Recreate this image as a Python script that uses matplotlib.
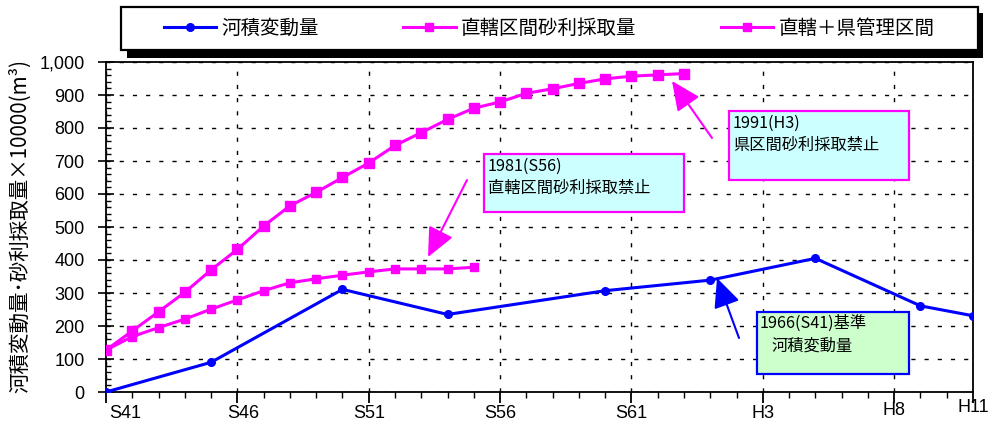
import matplotlib
matplotlib.use("Agg")
from matplotlib import pyplot as plt
from matplotlib.patches import Rectangle, FancyArrowPatch
from matplotlib.ticker import MultipleLocator, FixedLocator, FuncFormatter
from matplotlib.transforms import ScaledTranslation

# データ
years_kaseki = [1966, 1970, 1975, 1979, 1985, 1989, 1993, 1997, 1999]
kaseki = [0, 90, 311, 235, 307, 339, 405, 261, 231]

years_choku = list(range(1966, 1981))
choku = [127, 168, 195, 221, 251, 279, 307, 331, 343, 354, 364, 373, 373, 373, 378]

years_total = list(range(1966, 1989))
total = [127, 185, 243, 302, 370, 432, 503, 564, 605, 650, 694, 747, 786, 826,
         860, 879, 905, 919, 935, 949, 957, 961, 965]

tick_years = [1966, 1971, 1976, 1981, 1986, 1991, 1996, 1999]
tick_labels = ["S41", "S46", "S51", "S56", "S61", "H3", "H8", "H11"]

series_names = ["河積変動量", "直轄区間砂利採取量", "直轄＋県管理区間"]

JP = ["Noto Sans CJK JP", "DejaVu Sans"]
W, H = 990, 423

plt.rcParams["font.family"] = ["Liberation Sans", "Noto Sans CJK JP", "DejaVu Sans"]

fig = plt.figure(figsize=(9.9, 4.23), dpi=100)
ax = fig.add_axes([106 / W, 1 - 392 / H, (973 - 106) / W, (392 - 62) / H])


def fx(px):
    return px / W


def fy(py):
    return 1 - py / H


l1, = ax.plot(years_kaseki, kaseki, color="#0000FF", lw=2.2, marker="o",
              markersize=5.5, label=series_names[0], zorder=4)
l2, = ax.plot(years_choku, choku, color="#FF00FF", lw=2.2, marker="s",
              markersize=5.5, label=series_names[1], zorder=3)
l3, = ax.plot(years_total, total, color="#FF00FF", lw=2.2, marker="s",
              markersize=6.5, label=series_names[2], zorder=3)

ax.set_xlim(1966, 1999)
ax.set_ylim(0, 1000)
ax.xaxis.set_major_locator(FixedLocator(tick_years))
ax.set_xticklabels(tick_labels)
ax.xaxis.set_minor_locator(MultipleLocator(1))
ax.yaxis.set_major_locator(MultipleLocator(100))
ax.yaxis.set_minor_locator(MultipleLocator(20))
ax.yaxis.set_major_formatter(FuncFormatter(lambda v, p: f"{int(v):,}"))

ax.tick_params(axis="x", which="major", direction="out", length=8, width=1.3,
               labelsize=13, pad=1)
ax.tick_params(axis="x", which="minor", direction="out", length=4.5, width=1)
ax.tick_params(axis="y", which="major", direction="inout", length=11, width=1.2,
               labelsize=13, pad=10)
ax.tick_params(axis="y", which="minor", direction="in", length=3.5, width=1)

# 一部の目盛りラベルの位置ずれ（元図に合わせる）
shifts = {0: (3, 0), 1: (6, 0), 6: (0, 3), 7: (0, 6)}
for i, lab in enumerate(ax.get_xticklabels()):
    if i in shifts:
        dx, dy = shifts[i]
        lab.set_transform(lab.get_transform() +
                          ScaledTranslation(dx / 100, dy / 100, fig.dpi_scale_trans))
    if i == 0:
        lab.set_horizontalalignment("left")

ax.grid(True, which="major", color="black", lw=1, linestyle=(0, (3, 6.5)))
for s in ax.spines.values():
    s.set_linewidth(1.3)

fig.text(fx(20), fy(226), "河積変動量･砂利採取量×10000(m³)", rotation=90,
         ha="center", va="center", fontsize=14.8, family=JP)

# 凡例（枠と影は手描き）
fig.add_artist(Rectangle((fx(127), fy(58)), fx(983) - fx(127), fy(13) - fy(58),
                         transform=fig.transFigure, facecolor="black",
                         edgecolor="none", zorder=1))
fig.add_artist(Rectangle((fx(121), fy(50)), fx(978) - fx(121), fy(7) - fy(50),
                         transform=fig.transFigure, facecolor="white",
                         edgecolor="black", lw=1.6, zorder=2))
leg = fig.legend(handles=[l1, l2, l3], loc="center", ncol=3,
                 bbox_to_anchor=(fx(549), fy(28)),
                 prop={"family": JP, "size": 14}, frameon=False,
                 handlelength=2.7, handletextpad=0.26, columnspacing=4.35,
                 borderaxespad=0, borderpad=0)
leg.set_zorder(3)
for h in leg.legend_handles:
    h.set_markersize(5.5)

# 注記ボックス
boxes = [
    (484, 154, 684, 212, "#CCFFFF", "#FF00FF",
     [(488, 166, "1981(S56)"), (488, 188, "直轄区間砂利採取禁止")]),
    (729, 111, 909, 180, "#CCFFFF", "#FF00FF",
     [(733, 123, "1991(H3)"), (733, 145, "県区間砂利採取禁止")]),
    (757, 312, 909, 374, "#CCFFCC", "#0000FF",
     [(760, 323, "1966(S41)基準"), (772, 346, "河積変動量")]),
]
for x0, y0, x1, y1, fc, ec, lines in boxes:
    fig.add_artist(Rectangle((fx(x0), fy(y1)), fx(x1) - fx(x0), fy(y0) - fy(y1),
                             transform=fig.transFigure, facecolor=fc,
                             edgecolor=ec, lw=1.6, zorder=5))
    for tx, ty, t in lines:
        fig.text(fx(tx), fy(ty), t, ha="left", va="center", fontsize=11.7,
                 family=JP, zorder=6)

arrows = [
    ((467, 180), (428, 257), "#FF00FF"),
    ((712, 138), (672, 81), "#FF00FF"),
    ((739, 338), (717, 278), "#0000FF"),
]
for (ax0, ay0), (ax1, ay1), c in arrows:
    fig.add_artist(FancyArrowPatch((fx(ax0), fy(ay0)), (fx(ax1), fy(ay1)),
                                   transform=fig.transFigure,
                                   arrowstyle="-|>,head_length=1.2,head_width=0.55",
                                   mutation_scale=15, color=c, lw=1.5,
                                   shrinkA=0, shrinkB=0, zorder=6))

fig.savefig("out.png", dpi=100)
